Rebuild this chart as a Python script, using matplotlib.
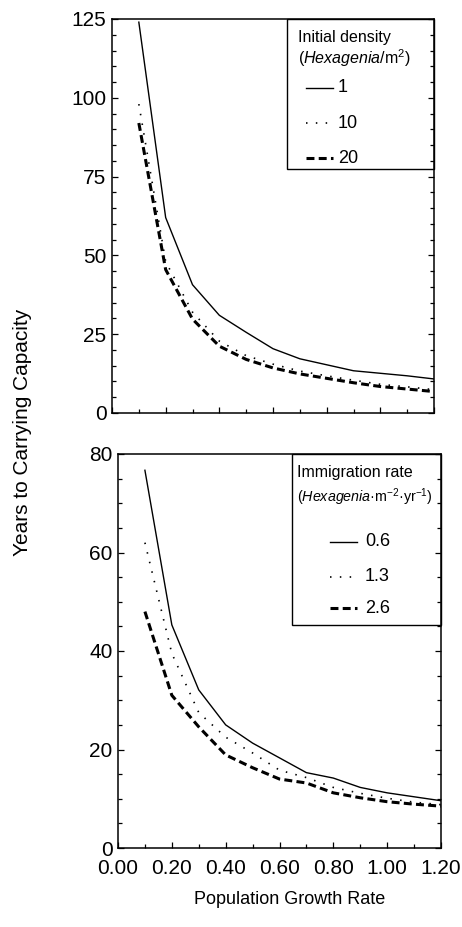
import matplotlib
matplotlib.use('Agg')
import matplotlib.pyplot as plt
from matplotlib.lines import Line2D
from matplotlib.patches import Rectangle
from matplotlib.ticker import MultipleLocator, FormatStrFormatter

plt.rcParams['font.family'] = ['Liberation Sans', 'DejaVu Sans']
plt.rcParams['mathtext.fontset'] = 'custom'
plt.rcParams['mathtext.rm'] = 'Liberation Sans'
plt.rcParams['mathtext.it'] = 'Liberation Sans:italic'

# growth rate (x)
growth = [0.1, 0.2, 0.3, 0.4, 0.5, 0.6, 0.7, 0.8, 0.9, 1.0, 1.1, 1.2]

# top panel: initial density (Hexagenia/m2)
dens_labels = ['1', '10', '20']
dens_1 = [124, 62, 40.7, 31, 25.6, 20.4, 17.2, 15.3, 13.4, 12.6, 11.8, 10.8]
dens_10 = [98, 48, 32, 22.8, 18.2, 15.5, 13.3, 11.8, 10.4, 9.1, 8.3, 7.4]
dens_20 = [92, 45.5, 29.8, 21.2, 17, 14.3, 12.4, 11, 9.6, 8.4, 7.6, 6.8]

# bottom panel: immigration rate
imm_labels = ['0.6', '1.3', '2.6']
imm_06 = [76.7, 45.3, 32.1, 25, 21.3, 18.3, 15.3, 14.2, 12.3, 11.2, 10.4, 9.6]
imm_13 = [62, 39.5, 27.5, 22.5, 19.3, 15.8, 14.3, 12.3, 11.1, 10.1, 9.3, 8.8]
imm_26 = [48, 31, 24.6, 18.9, 16.3, 14, 13.2, 11.2, 10.2, 9.4, 8.9, 8.5]

styles = [dict(color='black', lw=1.0, ls='-'),
          dict(color='black', lw=1.2, ls=(0, (0.9, 5))),
          dict(color='black', lw=2.2, ls=(0, (2.6, 1.4)))]


def style_axes(ax, ymax, major):
    ax.set_xlim(0, 1.2)
    ax.set_ylim(0, ymax)
    ax.xaxis.set_major_locator(MultipleLocator(0.2))
    ax.xaxis.set_minor_locator(MultipleLocator(0.1))
    ax.yaxis.set_major_locator(MultipleLocator(major))
    ax.yaxis.set_minor_locator(MultipleLocator(5))
    ax.tick_params(which='both', direction='in', right=True, top=False,
                   width=0.9, labelsize=15)
    ax.tick_params(which='major', length=4.5)
    ax.tick_params(which='minor', length=3)
    ax.tick_params(axis='y', pad=4)
    ax.tick_params(axis='x', pad=8)
    for s in ax.spines.values():
        s.set_linewidth(1.1)


def draw_key(ax, box, title, title_x, title_y, title_fs, labels, ys, hx, lx):
    x0, y0 = box
    ax.add_patch(Rectangle((x0, y0), 1 - x0, 1 - y0, transform=ax.transAxes,
                           fill=False, ec='black', lw=1.0, clip_on=False, zorder=5))
    for t, ty, fs in zip(title, title_y, title_fs):
        ax.text(title_x, ty, t, transform=ax.transAxes, fontsize=fs,
                ha='left', va='center')
    for lab, y, st in zip(labels, ys, styles):
        ax.add_line(Line2D(hx, [y, y], transform=ax.transAxes, **st))
        ax.text(lx, y, lab, transform=ax.transAxes, fontsize=13,
                ha='left', va='center')


fig = plt.figure(figsize=(4.62, 9.27), dpi=100)
ax1 = fig.add_axes([112 / 462, 1 - 413 / 927, 322 / 462, 394 / 927])
ax2 = fig.add_axes([118 / 462, 1 - 848 / 927, 323 / 462, 394 / 927])

for ys, st in zip([dens_1, dens_10, dens_20], styles):
    ax1.plot(growth, ys, **st)
for ys, st in zip([imm_06, imm_13, imm_26], styles):
    ax2.plot(growth, ys, **st)

style_axes(ax1, 125, 25)
style_axes(ax2, 80, 20)
ax1.tick_params(axis='x', labelbottom=False)
ax2.xaxis.set_major_formatter(FormatStrFormatter('%.2f'))

draw_key(ax1, (0.543, 0.619),
         ['Initial density', r'($\mathit{Hexagenia}$/m$^2$)'],
         0.578, [0.954, 0.901], [11.5, 11.5],
         dens_labels, [0.825, 0.736, 0.647], [0.602, 0.686], 0.702)
draw_key(ax2, (0.539, 0.566),
         ['Immigration rate', r'($\mathit{Hexagenia}$·m$^{-2}$·yr$^{-1}$)'],
         0.554, [0.952, 0.891], [11.5, 10.3],
         imm_labels, [0.777, 0.688, 0.609], [0.656, 0.740], 0.765)

fig.text(23 / 462, 1 - 432 / 927, 'Years to Carrying Capacity', rotation=90,
         ha='center', va='center', fontsize=15)
fig.text(290 / 462, 1 - 900 / 927, 'Population Growth Rate',
         ha='center', va='center', fontsize=13)

fig.savefig('out.png', dpi=100)
